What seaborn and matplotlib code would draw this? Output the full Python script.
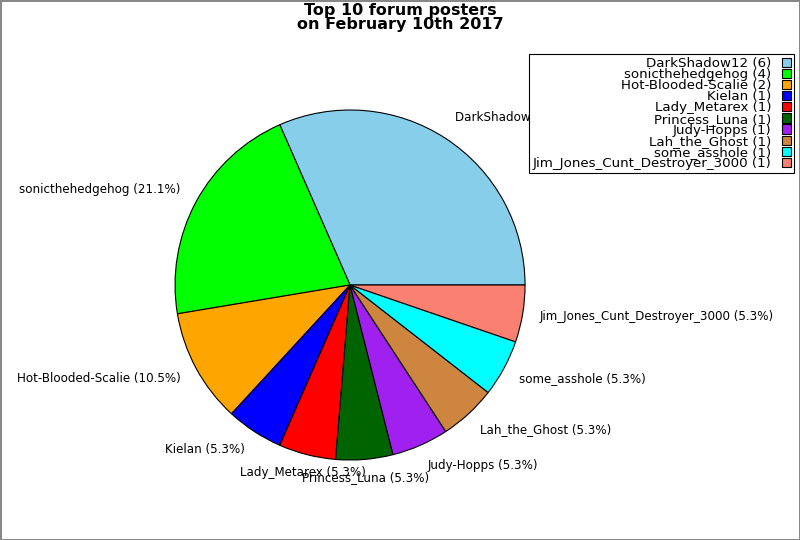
import matplotlib
matplotlib.use("Agg")
import matplotlib.pyplot as plt
import seaborn as sns
import numpy as np

# Data
posters = ["DarkShadow12", "sonicthehedgehog", "Hot-Blooded-Scalie", "Kielan",
           "Lady_Metarex", "Princess_Luna", "Judy-Hopps", "Lah_the_Ghost",
           "some_asshole", "Jim_Jones_Cunt_Destroyer_3000"]
posts = [6, 4, 2, 1, 1, 1, 1, 1, 1, 1]
colors = ["#87ceeb", "#00ff00", "#ffa500", "#0000ff", "#ff0000",
          "#006400", "#a020f0", "#cd853f", "#00ffff", "#fa8072"]

sns.set_style("white")
plt.rcParams["font.family"] = ["DejaVu Sans"]
plt.rcParams["text.color"] = "black"

total = sum(posts)
pie_labels = [f"{n} ({100 * v / total:.1f}%)" for n, v in zip(posters, posts)]
legend_labels = [f"{n} ({v})" for n, v in zip(posters, posts)]

fig = plt.figure(figsize=(8, 5.4), dpi=100)
fig.patch.set_edgecolor("#888888")
fig.patch.set_linewidth(2)

ax = fig.add_axes([0.1641, 0.0671, 0.5469, 0.8102])
wedges, texts = ax.pie(posts, labels=pie_labels, colors=colors, startangle=0,
                       counterclock=True, labeldistance=1.1,
                       wedgeprops=dict(edgecolor="black", linewidth=0.8),
                       textprops=dict(fontsize=8.6, color="black"))
ax.set_xlim(-1.25, 1.25)
ax.set_ylim(-1.25, 1.25)
ax.set_aspect("equal")

# labels near the bottom are centred, the rest aligned by side
for t in texts:
    x, y = t.get_position()
    if abs(x) < 0.4:
        t.set_ha("center")
        t.set_position((x, y * 1.01 + 0.006))
    else:
        t.set_position((x, y * 1.03 + 0.006))

fig.suptitle("Top 10 forum posters\non February 10th 2017", fontsize=11.5,
             fontweight="bold", y=0.995, linespacing=0.95, color="black")

leg = fig.legend(wedges, legend_labels, loc="upper right",
                 bbox_to_anchor=(0.9925, 0.9), markerfirst=False,
                 fontsize=9.6, labelspacing=-0.14, handlelength=0.7,
                 handleheight=0.7, handletextpad=0.8, borderpad=0.22,
                 borderaxespad=0, fancybox=False, framealpha=1)
leg.get_frame().set_edgecolor("black")
leg.get_frame().set_linewidth(0.8)

fig.savefig("out.png", dpi=100, edgecolor=fig.get_edgecolor())
